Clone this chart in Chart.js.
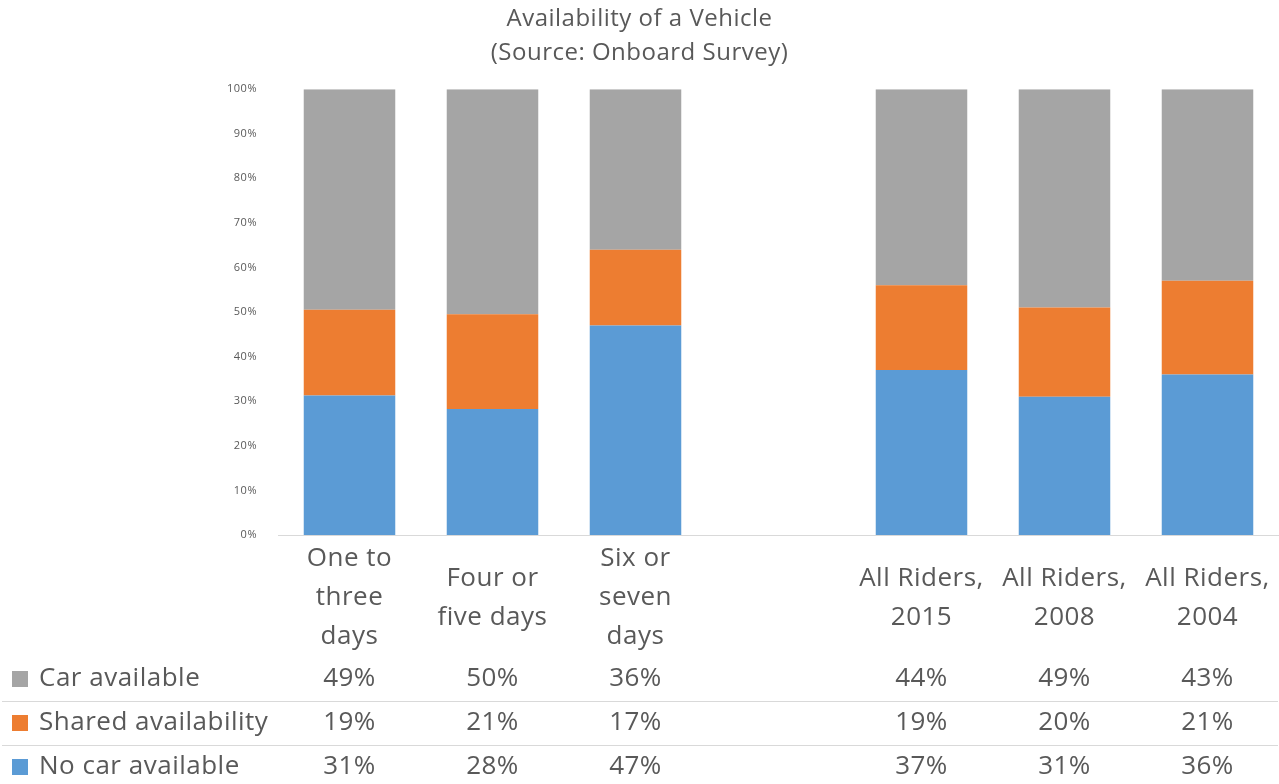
<!DOCTYPE html>
<html>
<head>
<meta charset="utf-8">
<title>Availability of a Vehicle</title>
<script src="https://cdn.jsdelivr.net/npm/chart.js@4"></script>
<style>
  html, body { margin: 0; padding: 0; background: #fff; }
  #wrap { width: 1279px; height: 784px; position: relative; }
</style>
</head>
<body>
<div id="wrap"><canvas id="grafico"></canvas></div>
<script>
// data
const categories = [
  ['One to', 'three', 'days'],
  ['Four or', 'five days'],
  ['Six or', 'seven', 'days'],
  '',
  ['All Riders,', '2015'],
  ['All Riders,', '2008'],
  ['All Riders,', '2004']
];
const noCar = [31, 28, 47, null, 37, 31, 36];
const shared = [19, 21, 17, null, 19, 20, 21];
const carAvailable = [49, 50, 36, null, 44, 49, 43];
const yTicks = [0, 10, 20, 30, 40, 50, 60, 70, 80, 90, 100];

const FONT = '"Open Sans", Lato, sans-serif';
const TEXT = '#595959';

// 100% stacked, like the original
function toShare(arr) {
  return arr.map((v, i) => {
    if (v === null) return null;
    const total = noCar[i] + shared[i] + carAvailable[i];
    return v / total * 100;
  });
}

const series = [
  { label: 'No car available', raw: noCar, color: '#5b9bd5' },
  { label: 'Shared availability', raw: shared, color: '#ed7d31' },
  { label: 'Car available', raw: carAvailable, color: '#a5a5a5' }
];

// slightly looser letters while drawing, closer to the original Calibri look
// (reset afterwards so layout measuring is not affected)
const spacing = {
  id: 'spacing',
  beforeDraw(chart) { chart.ctx.letterSpacing = '0.5px'; },
  afterDraw(chart) { chart.ctx.letterSpacing = '0px'; }
};

// data table under the axis
const dataTable = {
  id: 'dataTable',
  afterDraw(chart) {
    const { ctx } = chart;
    const x = chart.scales.x;
    const rows = [series[2], series[1], series[0]];
    const rowY = [679, 723, 767];
    ctx.save();
    ctx.letterSpacing = '0.5px';
    ctx.strokeStyle = '#d9d9d9';
    ctx.lineWidth = 1;
    [701.5, 745.5].forEach(y => {
      ctx.beginPath();
      ctx.moveTo(2, y);
      ctx.lineTo(1278, y);
      ctx.stroke();
    });
    ctx.font = '26px ' + FONT;
    ctx.textBaseline = 'middle';
    rows.forEach((s, r) => {
      const y = rowY[r];
      ctx.fillStyle = s.color;
      ctx.fillRect(12, y - 8, 16, 16);
      ctx.fillStyle = TEXT;
      ctx.textAlign = 'left';
      ctx.fillText(s.label, 39, y);
      ctx.textAlign = 'center';
      s.raw.forEach((v, i) => {
        if (v === null) return;
        ctx.fillText(v + '%', x.getPixelForValue(i), y);
      });
    });
    ctx.restore();
    ctx.letterSpacing = '0px';
  }
};

new Chart(document.getElementById('grafico'), {
  type: 'bar',
  data: {
    labels: categories,
    datasets: series.map(s => ({
      label: s.label,
      data: toShare(s.raw),
      backgroundColor: s.color,
      barPercentage: 0.64,
      categoryPercentage: 1
    }))
  },
  options: {
    responsive: true,
    maintainAspectRatio: false,
    animation: false,
    layout: { padding: { left: 0, right: 0, top: 0, bottom: 0 } },
    plugins: {
      legend: { display: false },
      tooltip: { enabled: false },
      title: {
        display: true,
        text: ['Availability of a Vehicle', '(Source: Onboard Survey)'],
        color: TEXT,
        font: { family: FONT, size: 24, weight: 'normal', lineHeight: 1.42 },
        padding: { top: 2, bottom: 19 }
      }
    },
    scales: {
      x: {
        stacked: true,
        grid: { display: false },
        border: { display: true, color: '#d9d9d9' },
        ticks: {
          color: TEXT,
          font: { family: FONT, size: 26, lineHeight: 1.5 },
          maxRotation: 0,
          autoSkip: false,
          crossAlign: 'center',
          padding: 16
        },
        afterFit(scale) {
          scale.height = 249;
          scale.paddingLeft = 0;
          scale.paddingRight = 0;
        }
      },
      y: {
        stacked: true,
        min: 0,
        max: 100,
        grid: { display: false },
        border: { display: false },
        afterBuildTicks(scale) { scale.ticks = yTicks.map(v => ({ value: v })); },
        ticks: {
          color: TEXT,
          font: { family: FONT, size: 11 },
          padding: 13,
          callback: v => v + '%'
        },
        afterFit(scale) { scale.width = 278; }
      }
    }
  },
  plugins: [spacing, dataTable]
});
</script>
</body>
</html>
